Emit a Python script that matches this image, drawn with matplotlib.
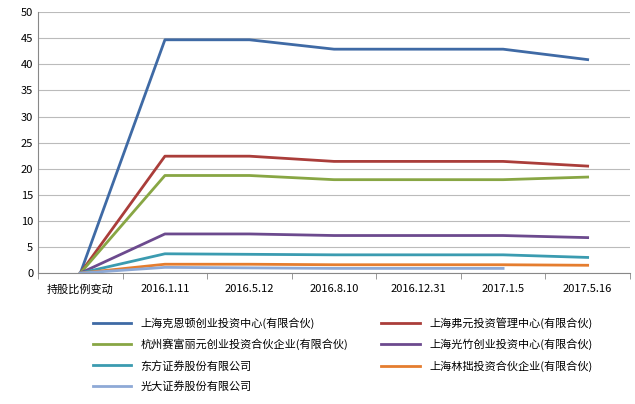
import matplotlib.pyplot as plt

plt.rcParams['font.family'] = ['Noto Sans CJK SC', 'DejaVu Sans']

categories = ["持股比例变动", "2016.1.11", "2016.5.12", "2016.8.10", "2016.12.31", "2017.1.5", "2017.5.16"]
names = [
    "上海克恩顿创业投资中心(有限合伙)",
    "上海弗元投资管理中心(有限合伙)",
    "杭州赛富丽元创业投资合伙企业(有限合伙)",
    "上海光竹创业投资中心(有限合伙)",
    "东方证券股份有限公司",
    "上海林拙投资合伙企业(有限合伙)",
    "光大证券股份有限公司",
]
values = [
    [0, 44.7, 44.7, 42.9, 42.9, 42.9, 40.9],
    [0, 22.4, 22.4, 21.4, 21.4, 21.4, 20.5],
    [0, 18.7, 18.7, 17.9, 17.9, 17.9, 18.4],
    [0, 7.5, 7.5, 7.2, 7.2, 7.2, 6.8],
    [0, 3.7, 3.6, 3.5, 3.5, 3.5, 3.0],
    [0, 1.7, 1.7, 1.6, 1.6, 1.6, 1.5],
    [0, 1.1, 1.0, 0.9, 0.9, 0.9],
]
colors = ["#3f6aa5", "#aa3d3a", "#88a644", "#6c4a8e", "#3b9bb0", "#e57d2f", "#8ea9d6"]

fig = plt.figure(figsize=(6.35, 4.04), dpi=100)
ax = fig.add_axes([0.06, 0.324, 0.932, 0.646])

handles = []
for name, vals, c in zip(names, values, colors):
    h, = ax.plot(range(len(vals)), vals, color=c, lw=2, label=name)
    handles.append(h)

ax.set_xlim(-0.5, len(categories) - 0.5)
ax.set_ylim(0, 50)
ax.set_yticks(range(0, 51, 5))
ax.set_xticks(range(len(categories)))
ax.set_xticklabels(categories, fontsize=8)
ax.set_xticks([i - 0.5 for i in range(len(categories) + 1)], minor=True)
ax.tick_params(axis='x', which='major', length=0, pad=8)
ax.tick_params(axis='x', which='minor', length=4, color="#888888")
ax.tick_params(axis='y', labelsize=8, length=0)
ax.grid(axis='y', color="#bbbbbb", lw=0.8)
for s in ["top", "right"]:
    ax.spines[s].set_visible(False)
ax.spines["left"].set_color("#888888")
ax.spines["bottom"].set_color("#888888")

# row-wise legend order: matplotlib fills columns first
order = [0, 2, 4, 6, 1, 3, 5]
fig.legend([handles[i] for i in order], [names[i] for i in order],
           loc="upper left", bbox_to_anchor=(0.13, 0.24), ncol=2, frameon=False,
           fontsize=8, columnspacing=3.0, handlelength=3.5, labelspacing=0.9)

fig.savefig("out.png", dpi=100)
